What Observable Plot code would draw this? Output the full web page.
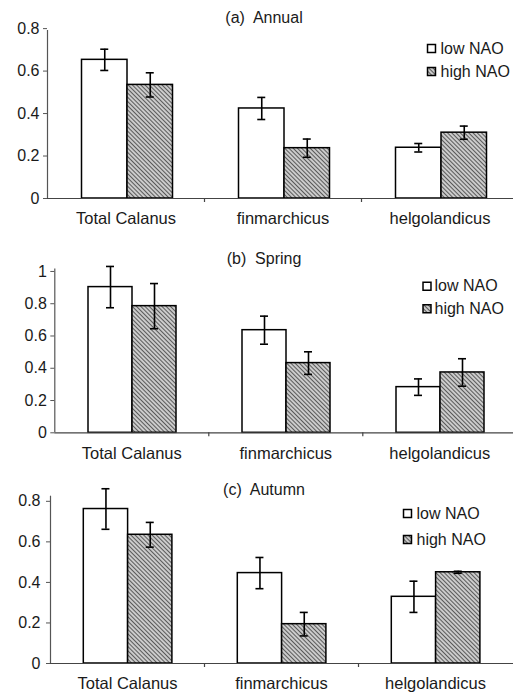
<!DOCTYPE html>
<html><head><meta charset="utf-8">
<script src="https://cdn.jsdelivr.net/npm/d3@7"></script>
<script src="https://cdn.jsdelivr.net/npm/@observablehq/plot@0.6"></script>
<style>
body{margin:0;background:#fff;}
#chart{width:513px;}
#chart svg{display:block;}
</style></head><body>
<svg width="0" height="0" style="position:absolute">
<defs><pattern id="hatch" patternUnits="userSpaceOnUse" width="3" height="3" patternTransform="rotate(-45)">
<rect width="3" height="3" fill="#cbcbcb"/><line x1="0.5" y1="0" x2="0.5" y2="3" stroke="#5a5a5a" stroke-width="1"/></pattern></defs></svg>
<div id="chart"></div>
<script>
const categories = ["Total Calanus", "finmarchicus", "helgolandicus"];
const series = ["low NAO", "high NAO"];
const titles = ["(a)\u00a0 Annual", "(b)\u00a0 Spring", "(c)\u00a0 Autumn"];

const annualLow = [0.653, 0.424, 0.239];
const annualLowErr = [0.05, 0.052, 0.02];
const annualHigh = [0.535, 0.237, 0.31];
const annualHighErr = [0.057, 0.043, 0.031];

const springLow = [0.903, 0.636, 0.283];
const springLowErr = [0.128, 0.087, 0.051];
const springHigh = [0.785, 0.432, 0.374];
const springHighErr = [0.14, 0.07, 0.085];

const autumnLow = [0.762, 0.446, 0.329];
const autumnLowErr = [0.1, 0.077, 0.077];
const autumnHigh = [0.635, 0.194, 0.45];
const autumnHighErr = [0.061, 0.058, 0.005];

const ticksAnnual = [0, 0.2, 0.4, 0.6, 0.8];
const ticksSpring = [0, 0.2, 0.4, 0.6, 0.8, 1];
const ticksAutumn = [0, 0.2, 0.4, 0.6, 0.8];

const fills = ["white", "url(#hatch)"];

function rows(vals, errs, s) {
  return categories.map((c, i) => ({category: c, series: s, value: vals[i], err: errs[i]}));
}

function panel(o) {
  const {title, low, lowErr, high, highErr, ticks, ymax, height, ml, mt, mb, bw, inset, w, titleY, lx, ly, tx, tickPadding} = o;
  const lowRows = rows(low, lowErr, series[0]);
  const highRows = rows(high, highErr, series[1]);
  const cLow = inset + w / 2;
  const cHigh = inset + w * 1.5;
  const cap = 4;
  const ink = "#1a1a1a";
  return Plot.plot({
    width: 513, height,
    marginLeft: ml, marginRight: 0, marginTop: mt, marginBottom: mb,
    style: {fontFamily: "'Liberation Sans', Arial, sans-serif", fontSize: "16px", color: ink, background: "white", overflow: "visible"},
    x: {type: "band", domain: categories, range: [ml, ml + 3 * bw], padding: 0, round: false},
    y: {domain: [0, ymax]},
    marks: [
      Plot.barY(lowRows, {x: "category", y: "value", fill: fills[0], stroke: "black", strokeWidth: 1.5, insetLeft: inset, insetRight: bw - inset - w}),
      Plot.barY(highRows, {x: "category", y: "value", fill: fills[1], stroke: "black", strokeWidth: 1.5, insetLeft: inset + w, insetRight: bw - inset - 2 * w}),
      Plot.ruleY([0], {stroke: "#444", strokeWidth: 1.2}),
      Plot.ruleX([categories[0]], {x: d => d, dx: -bw / 2, y1: 0, y2: ymax, insetBottom: -4, stroke: "#555", strokeWidth: 1.2}),
      Plot.ruleX(categories.slice(1), {x: d => d, dx: -bw / 2, y1: 0, y2: 0, insetBottom: -4, stroke: "#444", strokeWidth: 1.2}),
      Plot.ruleX(lowRows, {x: "category", y1: d => d.value - d.err, y2: d => d.value + d.err, dx: cLow - bw / 2, stroke: "black", strokeWidth: 1.6}),
      Plot.ruleX(highRows, {x: "category", y1: d => d.value - d.err, y2: d => d.value + d.err, dx: cHigh - bw / 2, stroke: "black", strokeWidth: 1.6}),
      Plot.tickY(lowRows, {x: "category", y: d => d.value + d.err, insetLeft: cLow - cap, insetRight: bw - cLow - cap, stroke: "black", strokeWidth: 1.6}),
      Plot.tickY(lowRows, {x: "category", y: d => d.value - d.err, insetLeft: cLow - cap, insetRight: bw - cLow - cap, stroke: "black", strokeWidth: 1.6}),
      Plot.tickY(highRows, {x: "category", y: d => d.value + d.err, insetLeft: cHigh - cap, insetRight: bw - cHigh - cap, stroke: "black", strokeWidth: 1.6}),
      Plot.tickY(highRows, {x: "category", y: d => d.value - d.err, insetLeft: cHigh - cap, insetRight: bw - cHigh - cap, stroke: "black", strokeWidth: 1.6}),
      Plot.axisY({ticks, tickSize: 4, tickPadding, tickFormat: d => `${d}`, label: null, stroke: "#555"}),
      Plot.axisX({tickSize: 0, tickPadding: 14, label: null, fontSize: 16.5}),
      Plot.text([title], {text: d => d, frameAnchor: "top-left", dx: 263.5 - ml, dy: titleY - mt, textAnchor: "middle", lineAnchor: "middle"}),
      ...series.map((s, i) => Plot.dot([s], {frameAnchor: "top-left", dx: lx - ml, dy: ly[i] - mt, symbol: "square", r: 4.5, fill: fills[i], stroke: "black", strokeWidth: 1.5})),
      ...series.map((s, i) => Plot.text([s], {text: d => d, frameAnchor: "top-left", dx: tx - ml, dy: ly[i] - mt, textAnchor: "start", lineAnchor: "middle"}))
    ]
  });
}

const chart = document.getElementById("chart");
chart.append(panel({title: titles[0], low: annualLow, lowErr: annualLowErr, high: annualHigh, highErr: annualHighErr,
  ticks: ticksAnnual, ymax: 0.81, height: 230, ml: 47, mt: 26, mb: 32, bw: 157, inset: 34.5, w: 45.5,
  titleY: 17, lx: 431, ly: [48, 71], tx: 440, tickPadding: 4}));
chart.append(panel({title: titles[1], low: springLow, lowErr: springLowErr, high: springHigh, highErr: springHighErr,
  ticks: ticksSpring, ymax: 1.04, height: 230, ml: 54.3, mt: 34.5, mb: 27.7, bw: 154, inset: 33.7, w: 44,
  titleY: 28, lx: 426.5, ly: [55.7, 78.3], tx: 434, tickPadding: 4}));
chart.append(panel({title: titles[2], low: autumnLow, lowErr: autumnLowErr, high: autumnHigh, highErr: autumnHighErr,
  ticks: ticksAutumn, ymax: 0.845, height: 232, ml: 50, mt: 31.7, mb: 29, bw: 154, inset: 33.3, w: 44.3,
  titleY: 29, lx: 407, ly: [53, 79], tx: 416, tickPadding: 6}));
</script>
</body></html>
